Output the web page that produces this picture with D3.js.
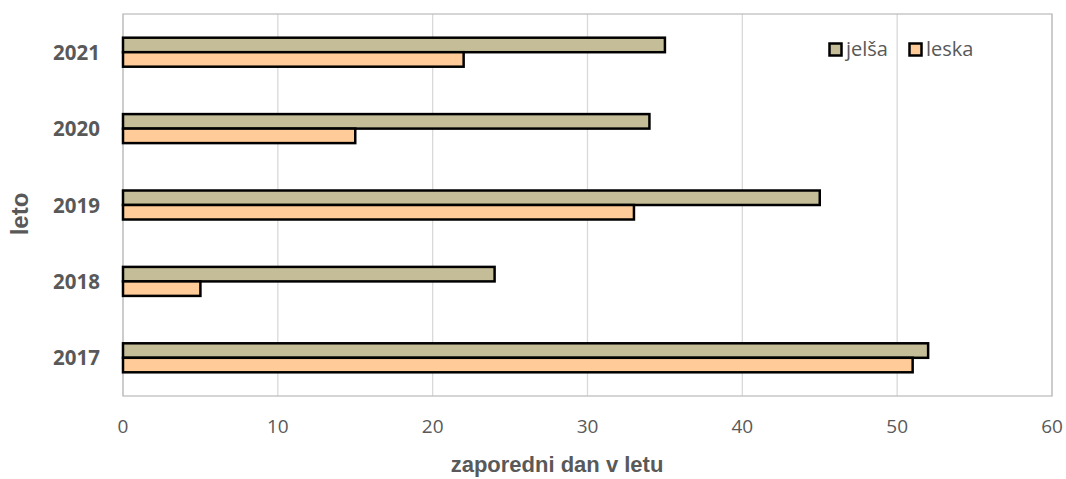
<!DOCTYPE html>
<html lang="sl">
<head>
    <meta charset="UTF-8">
    <title>jelša / leska</title>
    <script src="https://d3js.org/d3.v7.min.js"></script>
    <style>
        body { margin: 0; background: #fff; }
        .tick-x { font-family: "Open Sans", "Liberation Sans", sans-serif; font-size: 19px; fill: #595959; }
        .tick-y { font-family: "Open Sans", "Liberation Sans", sans-serif; font-size: 20.5px; font-weight: bold; fill: #595959; }
        .axis-title { font-family: "Liberation Sans Narrow", "Liberation Sans", sans-serif; font-size: 22px; font-weight: bold; fill: #595959; }
        .legend-text { font-family: "Open Sans", "Liberation Sans", sans-serif; font-size: 20px; fill: #595959; }
    </style>
</head>
<body>
<div id="chart"></div>
<script>
    // data
    const years = ["2017", "2018", "2019", "2020", "2021"];
    const jelsa = [52, 24, 45, 34, 35];
    const leska = [51, 5, 33, 15, 22];
    const xTicks = [0, 10, 20, 30, 40, 50, 60];
    const seriesNames = ["jelša", "leska"];
    const seriesColors = ["#C4BD97", "#FFCC99"];

    const width = 1066, height = 479;
    const plotL = 123, plotR = 1052, plotT = 14, plotB = 396;

    const svg = d3.select("#chart").append("svg")
        .attr("width", width)
        .attr("height", height);

    const x = d3.scaleLinear().domain([0, 60]).range([plotL, plotR]);
    const y = d3.scaleBand().domain(years.slice().reverse()).range([plotT, plotB]);

    // gridlines
    svg.append("g")
        .selectAll("line")
        .data(xTicks)
        .enter().append("line")
        .attr("x1", d => x(d)).attr("x2", d => x(d))
        .attr("y1", plotT).attr("y2", plotB)
        .attr("stroke", "#d9d9d9")
        .attr("stroke-width", 1.3);

    // plot frame
    svg.append("rect")
        .attr("x", plotL).attr("y", plotT)
        .attr("width", plotR - plotL).attr("height", plotB - plotT)
        .attr("fill", "none")
        .attr("stroke", "#bfbfbf")
        .attr("stroke-width", 1.3);

    // bars
    const barH = 14.5;
    const rows = years.map((yr, i) => ({ year: yr, vals: [jelsa[i], leska[i]] }));
    const groups = svg.selectAll(".row")
        .data(rows)
        .enter().append("g")
        .attr("class", "row");

    groups.selectAll("rect")
        .data(d => d.vals.map((v, k) => ({ year: d.year, v: v, k: k })))
        .enter().append("rect")
        .attr("x", x(0))
        .attr("y", d => y(d.year) + y.bandwidth() / 2 - barH + d.k * barH)
        .attr("width", d => x(d.v) - x(0))
        .attr("height", barH)
        .attr("fill", d => seriesColors[d.k])
        .attr("stroke", "#000")
        .attr("stroke-width", 2.5);

    // x axis labels
    svg.append("g")
        .selectAll("text")
        .data(xTicks)
        .enter().append("text")
        .attr("class", "tick-x")
        .attr("x", d => x(d))
        .attr("y", 433)
        .attr("text-anchor", "middle")
        .text(d => d);

    // y axis labels
    svg.append("g")
        .selectAll("text")
        .data(years)
        .enter().append("text")
        .attr("class", "tick-y")
        .attr("x", 100)
        .attr("y", d => y(d) + y.bandwidth() / 2 + 7.5)
        .attr("text-anchor", "end")
        .text(d => d);

    // axis titles
    svg.append("text")
        .attr("class", "axis-title")
        .attr("x", 557)
        .attr("y", 472)
        .attr("text-anchor", "middle")
        .text("zaporedni dan v letu");

    svg.append("text")
        .attr("class", "axis-title")
        .style("font-size", "24px")
        .attr("transform", "translate(28,214) rotate(-90)")
        .attr("text-anchor", "middle")
        .text("leto");

    // legend
    const legendX = [829.5, 909.5];
    const leg = svg.selectAll(".legend")
        .data(seriesNames)
        .enter().append("g")
        .attr("class", "legend")
        .attr("transform", (d, i) => "translate(" + legendX[i] + ",43.5)");

    leg.append("rect")
        .attr("width", 12).attr("height", 12)
        .attr("fill", (d, i) => seriesColors[i])
        .attr("stroke", "#000")
        .attr("stroke-width", 2.5);

    leg.append("text")
        .attr("class", "legend-text")
        .attr("x", 16.5)
        .attr("y", 12.5)
        .text(d => d);
</script>
</body>
</html>
